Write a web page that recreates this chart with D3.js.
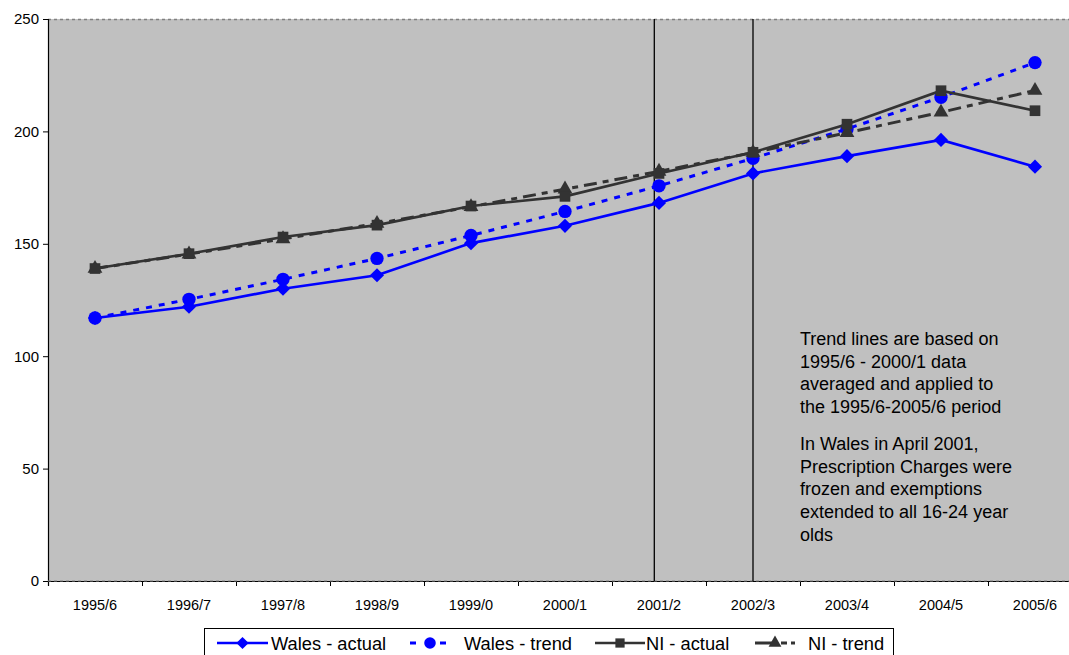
<!DOCTYPE html>
<html>
<head>
<meta charset="utf-8">
<script src="https://cdn.jsdelivr.net/npm/d3@7"></script>
<style>
  html, body { margin: 0; padding: 0; background: #fff; overflow: hidden; }
  svg { display: block; font-family: "Liberation Sans", Arial, sans-serif; }
</style>
</head>
<body>
<svg id="chart" width="1069" height="655"></svg>
<script>
// Financial years
const years = ["1995/6","1996/7","1997/8","1998/9","1999/0","2000/1","2001/2","2002/3","2003/4","2004/5","2005/6"];

// Series values
const walesActual = [117, 122, 130, 136, 150.3, 158, 168.2, 181.3, 189, 196.2, 184.3];
const walesTrend  = [117, 125.3, 134.2, 143.5, 153.7, 164.4, 175.8, 188, 201.1, 215.2, 230.6];
const niActual    = [139, 145.6, 153, 158.3, 166.8, 171.1, 181.3, 190.7, 203.2, 218.1, 209.2];
const niTrend     = [139, 145.4, 152.2, 159, 166.5, 174.3, 182.2, 190.6, 199.4, 208.5, 218.2];

// Y axis ticks
const yTicks = [0, 50, 100, 150, 200, 250];

// Policy-change reference lines, in category units along the x axis
const eventPositions = [6.45, 7.5];

const annotation1 = ["Trend lines are based on", "1995/6 - 2000/1 data", "averaged and applied to", "the 1995/6-2005/6 period"];
const annotation2 = ["In Wales in April 2001,", "Prescription Charges were", "frozen and exemptions", "extended to all 16-24 year", "olds"];

const svg = d3.select("#chart");
const plot = { left: 48, top: 19, bottom: 581, right: 1082 };

const x = d3.scaleBand().domain(years).range([plot.left, plot.right]).padding(0);
const xu = d3.scaleLinear().domain([0, years.length]).range([plot.left, plot.right]);
const y = d3.scaleLinear().domain([0, 250]).range([plot.bottom, plot.top]);
const cx = d => x(d) + x.bandwidth() / 2;

// Plot background
svg.append("rect")
  .attr("x", plot.left).attr("y", plot.top)
  .attr("width", plot.right - plot.left).attr("height", plot.bottom - plot.top)
  .attr("fill", "#C0C0C0");

// Dotted frame along the top
svg.append("line")
  .attr("x1", plot.left).attr("x2", plot.right)
  .attr("y1", plot.top + 0.5).attr("y2", plot.top + 0.5)
  .attr("stroke", "#808080").attr("stroke-width", 1.5).attr("stroke-dasharray", "3,3");

// Y axis
const yAxis = svg.append("g")
  .attr("transform", `translate(${plot.left},0)`)
  .call(d3.axisLeft(y).tickValues(yTicks).tickSize(5).tickPadding(4));
yAxis.select(".domain").attr("stroke", "#000").attr("stroke-width", 1.2);
yAxis.selectAll(".tick line").attr("stroke", "#000");
yAxis.selectAll("text").attr("font-size", 15).attr("fill", "#000")
  .attr("font-family", "'Liberation Sans', Arial, sans-serif");

// X axis: ticks on category boundaries
const xAxis = svg.append("g")
  .attr("transform", `translate(0,${plot.bottom})`)
  .call(d3.axisBottom(xu).tickValues(d3.range(0, years.length + 1)).tickSize(5).tickFormat(""));
xAxis.select(".domain").attr("stroke", "#000").attr("stroke-width", 1.2);
xAxis.selectAll(".tick line").attr("stroke", "#000");
svg.append("line")
  .attr("x1", plot.left).attr("x2", plot.right)
  .attr("y1", plot.bottom).attr("y2", plot.bottom)
  .attr("stroke", "#808080").attr("stroke-width", 1.2).attr("stroke-dasharray", "3,3");

svg.append("g").selectAll("text")
  .data(years).join("text")
  .attr("x", d => cx(d)).attr("y", 610)
  .attr("text-anchor", "middle")
  .attr("font-size", 14.5)
  .attr("fill", "#000")
  .text(d => d);

// Vertical reference lines
svg.append("g").selectAll("line")
  .data(eventPositions).join("line")
  .attr("x1", d => xu(d)).attr("x2", d => xu(d))
  .attr("y1", plot.top).attr("y2", plot.bottom)
  .attr("stroke", "#000").attr("stroke-width", 1.3);

// Series definitions (diamond = square rotated 45 degrees)
const blue = "#0000FF", dark = "#333333";
const series = [
  { name: "Wales - actual", values: walesActual, color: blue, dash: null, width: 2.6, symbol: d3.symbolSquare, size: 100, rotate: 45 },
  { name: "Wales - trend",  values: walesTrend,  color: blue, dash: "6,7", width: 3, symbol: d3.symbolCircle, size: 140 },
  { name: "NI - actual",    values: niActual,    color: dark, dash: null, width: 2.6, symbol: d3.symbolSquare, size: 114 },
  { name: "NI - trend",     values: niTrend,     color: dark, dash: "13,6,6,6", width: 3, symbol: d3.symbolTriangle, size: 95 }
];

const line = d3.line().x((d, i) => cx(years[i])).y(d => y(d));

// Draw trends first, then actual lines on top (NI last)
const order = [1, 3, 0, 2];
order.forEach(k => {
  const s = series[k];
  const g = svg.append("g");
  g.append("path")
    .datum(s.values)
    .attr("d", line)
    .attr("fill", "none")
    .attr("stroke", s.color)
    .attr("stroke-width", s.width)
    .attr("stroke-dasharray", s.dash);
  g.selectAll("path.m")
    .data(s.values).join("path")
    .attr("class", "m")
    .attr("transform", (d, i) => `translate(${cx(years[i])},${y(d)})` + (s.rotate ? ` rotate(${s.rotate})` : ""))
    .attr("d", d3.symbol().type(s.symbol).size(s.size))
    .attr("fill", s.color);
});

// Annotation text
const ann = svg.append("g").attr("font-size", 18).attr("fill", "#000");
annotation1.forEach((t, i) => {
  ann.append("text").attr("x", 800).attr("y", 345 + i * 22.7).text(t);
});
annotation2.forEach((t, i) => {
  ann.append("text").attr("x", 800).attr("y", 450 + i * 22.7).text(t);
});

// Legend
const legend = svg.append("g");
legend.append("rect")
  .attr("x", 204.5).attr("y", 628.5)
  .attr("width", 689).attr("height", 40)
  .attr("fill", "#fff").attr("stroke", "#000").attr("stroke-width", 1);

const legendItems = [
  { s: series[0], x1: 217, x2: 268, tx: 271 },
  { s: series[1], x1: 410, x2: 450, tx: 464 },
  { s: series[2], x1: 595, x2: 645, tx: 646 },
  { s: series[3], x1: 755, x2: 795, tx: 808 }
];
legendItems.forEach(it => {
  const s = it.s, ly = 643;
  legend.append("line")
    .attr("x1", it.x1).attr("x2", it.x2).attr("y1", ly).attr("y2", ly)
    .attr("stroke", s.color).attr("stroke-width", s.width)
    .attr("stroke-dasharray", s.dash ? (s.name === "NI - trend" ? "22,4,6,4" : "6,9") : null);
  legend.append("path")
    .attr("transform", `translate(${(it.x1 + it.x2) / 2},${ly})` + (s.rotate ? ` rotate(${s.rotate})` : ""))
    .attr("d", d3.symbol().type(s.symbol).size(s.size * 0.75))
    .attr("fill", s.color);
  legend.append("text")
    .attr("x", it.tx).attr("y", 650)
    .attr("font-size", 18.3).attr("fill", "#000")
    .text(s.name);
});
</script>
</body>
</html>
